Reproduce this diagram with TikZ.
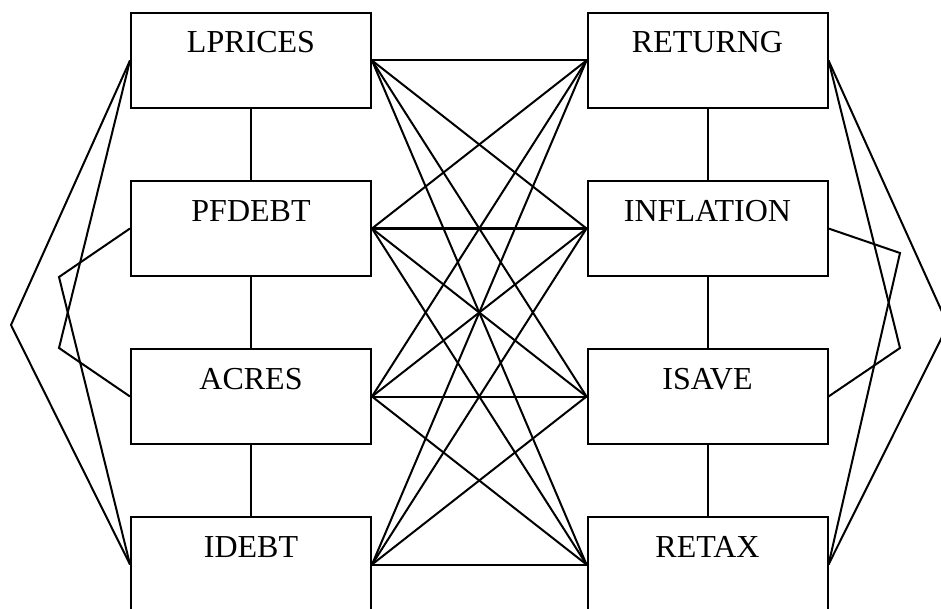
\documentclass[tikz,border=0pt]{standalone}
\usepackage{fontspec}
\setmainfont{Liberation Serif}
\usetikzlibrary{positioning,calc}

\tikzset{
  varbox/.style={draw, line width=1pt, rectangle, inner sep=0pt,
    text width=120pt, align=center, text height=20pt, text depth=27.5pt,
    font=\fontsize{16}{19}\selectfont},
  link/.style={line width=1pt}
}

\begin{document}
\begin{tikzpicture}[x=0.5pt, y=-0.5pt]
    \useasboundingbox (0,0) rectangle (941,609);
    \clip (0,0) rectangle (941,609);
    % ---- left column
    \node[varbox] (lprices) at (251, 60.5) {LPRICES};
    \node[varbox] (pfdebt)  at (251,228.5) {PFDEBT};
    \node[varbox] (acres)   at (251,396.5) {ACRES};
    \node[varbox] (idebt)   at (251,564.5) {IDEBT};
    % ---- right column
    \node[varbox] (returng)   at (707.5, 60.5) {RETURNG};
    \node[varbox] (inflation) at (707.5,228.5) {INFLATION};
    \node[varbox] (isave)     at (707.5,396.5) {ISAVE};
    \node[varbox] (retax)     at (707.5,564.5) {RETAX};
    % ---- bend points of the outer edges
    \coordinate (la) at (11,325);
    \coordinate (lb) at (59,277);
    \coordinate (lc) at (59,348);
    \coordinate (ra) at (948,325);
    \coordinate (rb) at (900,253);
    \coordinate (rc) at (900,348);
    % ---- chains down each column
    \foreach \u/\v in {lprices/pfdebt,pfdebt/acres,acres/idebt,
                       returng/inflation,inflation/isave,isave/retax}
      { \draw[link] (\u) -- (\v); }
    % ---- every left box to every right box
    \foreach \u in {lprices,pfdebt,acres,idebt}
      \foreach \v in {returng,inflation,isave,retax}
        { \draw[link] (\u.east) -- (\v.west); }
    % ---- outer edges
    \draw[link] (lprices.west) -- (la) -- (idebt.west);
    \draw[link] (lprices.west) -- (lc) -- (acres.west);
    \draw[link] (pfdebt.west) -- (lb) -- (idebt.west);
    \draw[link] (returng.east) -- (ra) -- (retax.east);
    \draw[link] (returng.east) -- (rc) -- (isave.east);
    \draw[link] (inflation.east) -- (rb) -- (retax.east);
  \end{tikzpicture}
\end{document}
